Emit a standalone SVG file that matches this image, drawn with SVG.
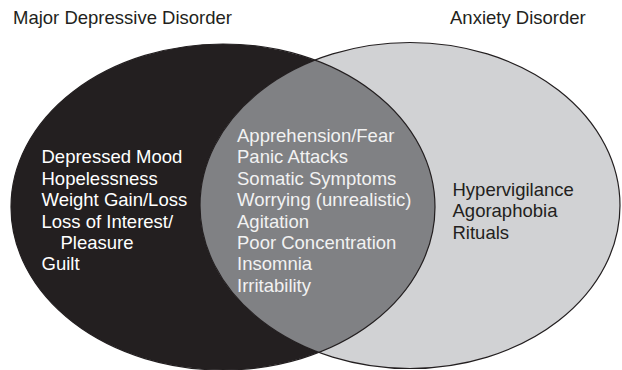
<svg xmlns="http://www.w3.org/2000/svg" width="622" height="370" viewBox="0 0 622 370">
<style>
text{font-family:"Liberation Sans",Arial,sans-serif;font-size:18.5px}
.t{fill:#231f20}
.w{fill:#ffffff}
.l{fill:#f2f2f2}
.o{fill:none;stroke:#231f20;stroke-width:1.2}
</style>
<defs>
<clipPath id="clipL"><ellipse cx="223" cy="207" rx="212" ry="163"/></clipPath>
</defs>
<rect width="622" height="370" fill="#ffffff"/>
<g id="titles">
<text class="t" x="13" y="24">Major Depressive Disorder</text>
<text class="t" x="450" y="24">Anxiety Disorder</text>
</g>
<g id="mdd">
<ellipse cx="223" cy="207" rx="212" ry="163" fill="#231f20"/>
</g>
<g id="anxiety">
<ellipse cx="410" cy="205.5" rx="210" ry="163" fill="#d1d2d4"/>
</g>
<g id="overlap">
<ellipse cx="410" cy="205.5" rx="210" ry="163" fill="#808184" clip-path="url(#clipL)"/>
</g>
<g id="outlines">
<ellipse class="o" cx="223" cy="207" rx="212" ry="163"/>
<ellipse class="o" cx="410" cy="205.5" rx="210" ry="163"/>
</g>
<g id="mdd-text">
<text class="w" x="41.5" y="163">Depressed Mood</text>
<text class="w" x="41.5" y="184.5">Hopelessness</text>
<text class="w" x="41.5" y="206">Weight Gain/Loss</text>
<text class="w" x="41.5" y="227.5">Loss of Interest/</text>
<text class="w" x="60.5" y="249">Pleasure</text>
<text class="w" x="41.5" y="270">Guilt</text>
</g>
<g id="overlap-text">
<text class="l" x="237" y="141.5">Apprehension/Fear</text>
<text class="l" x="237" y="163">Panic Attacks</text>
<text class="l" x="237" y="184.5">Somatic Symptoms</text>
<text class="l" x="237" y="206">Worrying (unrealistic)</text>
<text class="l" x="237" y="227.5">Agitation</text>
<text class="l" x="237" y="249">Poor Concentration</text>
<text class="l" x="237" y="270">Insomnia</text>
<text class="l" x="237" y="291.5">Irritability</text>
</g>
<g id="anxiety-text">
<text class="t" x="452.5" y="195.5">Hypervigilance</text>
<text class="t" x="452.5" y="217">Agoraphobia</text>
<text class="t" x="452.5" y="238.5">Rituals</text>
</g>
</svg>
